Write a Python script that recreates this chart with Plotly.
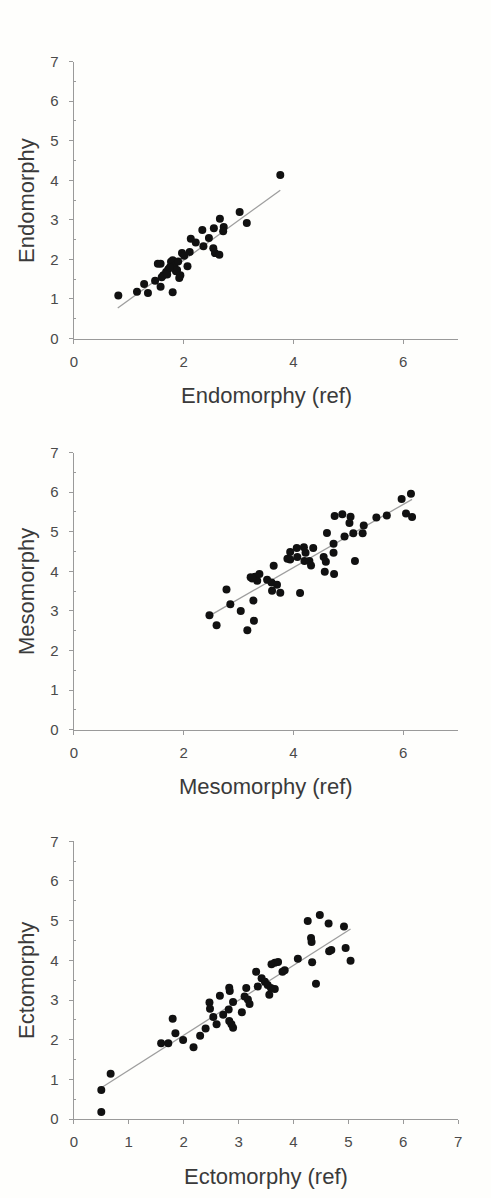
import plotly.graph_objects as go

# ---------------- data ----------------
endo_ref = [0.81, 1.15, 1.28, 1.35, 1.48, 1.53, 1.58, 1.58, 1.63, 1.68, 1.72, 1.77, 1.80, 1.80,
            1.83, 1.86, 1.88, 1.92, 1.94, 1.97, 2.01, 2.07, 2.11, 2.13, 2.22, 2.34, 2.36, 2.46,
            2.54, 2.57, 2.65, 2.55, 2.66, 2.73, 2.72, 3.02, 3.15, 3.76, 1.60, 1.70, 1.90, 1.75]
endo = [1.09, 1.18, 1.38, 1.15, 1.46, 1.89, 1.89, 1.31, 1.60, 1.68, 1.75, 1.94, 1.98, 1.17,
        1.84, 1.70, 1.73, 1.53, 1.60, 2.16, 2.09, 1.83, 2.19, 2.52, 2.43, 2.74, 2.33, 2.54,
        2.28, 2.16, 2.12, 2.79, 3.03, 2.82, 2.71, 3.20, 2.92, 4.13, 1.55, 1.62, 1.95, 1.80]
endo_fit_x = [0.80, 3.76]
endo_fit_y = [0.77, 3.75]

meso_ref = [2.47, 2.60, 2.78, 2.85, 3.04, 3.16, 3.22, 3.27, 3.28, 3.30, 3.34, 3.38, 3.52, 3.60,
            3.61, 3.64, 3.70, 3.76, 3.89, 3.94, 3.94, 4.06, 4.07, 4.12, 4.19, 4.20, 4.22, 4.29,
            4.32, 4.36, 4.55, 4.57, 4.59, 4.61, 4.73, 4.73, 4.74, 4.75, 4.89, 4.93, 5.04, 5.02,
            5.09, 5.12, 5.26, 5.28, 5.51, 5.70, 5.97, 6.05, 6.14, 6.16, 3.25]
meso = [2.89, 2.64, 3.54, 3.17, 3.00, 2.51, 3.85, 3.26, 2.75, 3.86, 3.76, 3.93, 3.79, 3.72,
        3.51, 4.14, 3.66, 3.46, 4.32, 4.49, 4.30, 4.59, 4.36, 3.45, 4.61, 4.26, 4.47, 4.26,
        4.15, 4.59, 4.36, 3.99, 4.24, 4.97, 4.70, 4.47, 3.93, 5.40, 5.44, 4.88, 5.38, 5.22,
        4.96, 4.26, 4.96, 5.16, 5.36, 5.41, 5.83, 5.46, 5.96, 5.37, 3.82]
meso_fit_x = [2.50, 6.16]
meso_fit_y = [2.90, 5.82]

ecto_ref = [0.50, 0.50, 0.67, 1.59, 1.72, 1.80, 1.85, 1.99, 2.18, 2.30, 2.40, 2.47, 2.48, 2.54,
            2.60, 2.66, 2.72, 2.82, 2.83, 2.84, 2.83, 2.87, 2.90, 2.90, 3.06, 3.11, 3.14, 3.17,
            3.20, 3.32, 3.35, 3.42, 3.48, 3.53, 3.56, 3.59, 3.66, 3.60, 3.66, 3.72, 3.80, 3.84,
            4.08, 4.26, 4.32, 4.33, 4.34, 4.41, 4.48, 4.64, 4.65, 4.69, 4.92, 4.95, 5.04]
ecto = [0.73, 0.18, 1.14, 1.91, 1.91, 2.53, 2.16, 1.99, 1.81, 2.10, 2.28, 2.94, 2.78, 2.57,
        2.39, 3.11, 2.63, 2.76, 3.31, 3.23, 2.47, 2.39, 2.30, 2.95, 2.69, 3.09, 3.30, 3.01,
        2.90, 3.71, 3.34, 3.55, 3.46, 3.38, 3.13, 3.30, 3.28, 3.90, 3.94, 3.96, 3.71, 3.75,
        4.04, 4.99, 4.56, 4.46, 3.95, 3.41, 5.14, 4.93, 4.23, 4.26, 4.85, 4.31, 3.99]
ecto_fit_x = [0.50, 5.04]
ecto_fit_y = [0.79, 4.79]

x_titles = ["Endomorphy (ref)", "Mesomorphy (ref)", "Ectomorphy (ref)"]
y_titles = ["Endomorphy", "Mesomorphy", "Ectomorphy"]
x_tickvals = [[0, 2, 4, 6], [0, 2, 4, 6], [0, 1, 2, 3, 4, 5, 6, 7]]
y_tickvals = [0, 1, 2, 3, 4, 5, 6, 7]

# ---------------- figure ----------------
W, H = 491, 1198
FONT = "Liberation Sans, Arial, sans-serif"
AXIS_COLOR = "#9a9a9a"
TICK_FONT_COLOR = "#4a4a4a"
TITLE_COLOR = "#3a3a3a"

fig = go.Figure()

panels = [
    (endo_ref, endo, endo_fit_x, endo_fit_y),
    (meso_ref, meso, meso_fit_x, meso_fit_y),
    (ecto_ref, ecto, ecto_fit_x, ecto_fit_y),
]
# pixel extents of plot areas (top, bottom)
x_left, x_right = 71, 461.7
y_extents = [(53.3, 334.3), (450, 731), (844.3, 1126)]

for i, (xs, ys, fx, fy) in enumerate(panels):
    n = "" if i == 0 else str(i + 1)
    fig.add_trace(go.Scatter(x=fx, y=fy, mode="lines",
                             line=dict(color="#9e9e9e", width=1.3),
                             xaxis="x" + n, yaxis="y" + n, showlegend=False, hoverinfo="skip"))
    fig.add_trace(go.Scatter(x=xs, y=ys, mode="markers",
                             marker=dict(color="#111111", size=8, line=dict(width=0)),
                             xaxis="x" + n, yaxis="y" + n, showlegend=False))
    top, bot = y_extents[i]
    xdom = [x_left / W, x_right / W]
    ydom = [1 - bot / H, 1 - top / H]
    common = dict(showline=True, linecolor=AXIS_COLOR, linewidth=1.3, showgrid=False,
                  zeroline=False, ticks="outside", ticklen=4, tickwidth=1, tickcolor=AXIS_COLOR,
                  tickfont=dict(family=FONT, size=15, color=TICK_FONT_COLOR), range=[0, 7],
                  fixedrange=True)
    fig.update_layout(**{
        "xaxis" + n: dict(common, domain=xdom, anchor="y" + n, tickmode="array",
                          tickvals=x_tickvals[i], ticklabelstandoff=5),
        "yaxis" + n: dict(common, domain=ydom, anchor="x" + n, tickmode="array",
                          tickvals=y_tickvals, ticklabelstandoff=7,
                          minor=dict(tickvals=[0.5, 1.5, 2.5, 3.5, 4.5, 5.5, 6.5],
                                     ticks="inside", ticklen=2, tickcolor=AXIS_COLOR)),
    })
    fig.add_annotation(text=x_titles[i], xref="x" + n + " domain", yref="y" + n + " domain",
                       x=0.5, y=0, xanchor="center", yanchor="middle", yshift=-57,
                       showarrow=False, font=dict(family=FONT, size=22, color=TITLE_COLOR))
    fig.add_annotation(text=y_titles[i], xref="x" + n + " domain", yref="y" + n + " domain",
                       x=0, y=0.5, xanchor="center", yanchor="middle", xshift=-48,
                       textangle=-90, showarrow=False,
                       font=dict(family=FONT, size=22, color=TITLE_COLOR))

fig.update_layout(width=W, height=H, margin=dict(l=0, r=0, t=0, b=0),
                  paper_bgcolor="#fefefc", plot_bgcolor="#fefefc")

fig.write_html("out.html", config={"displayModeBar": False},
               post_script="document.body.style.margin='0';document.body.style.background='#fefefc';")
